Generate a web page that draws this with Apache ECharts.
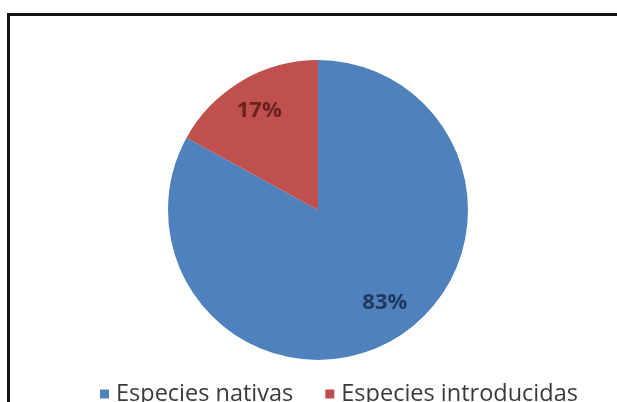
<!DOCTYPE html>
<html>
<head>
<meta charset="utf-8">
<script src="https://cdn.jsdelivr.net/npm/echarts@6/dist/echarts.min.js"></script>
<style>
    html, body { margin: 0; padding: 0; background: #fff; }
    #frame { position: absolute; left: 7px; top: 13px; width: 640px; height: 420px;
             border-top: 3px solid #141414; border-left: 3px solid #141414; }
    #chart { position: absolute; left: 0; top: 0; width: 617px; height: 402px; }
</style>
</head>
<body>
<div id="frame"></div>
<div id="chart"></div>
<script>
// datos
const categories = ['Especies nativas', 'Especies introducidas'];
const values = [83, 17];
const colors = ['#4f81bd', '#c0504d'];
const labelColors = ['#1f3a5e', '#6a2220'];
const labelShift = [[8, -7], [0, 0]];

let chart = echarts.init(document.getElementById('chart'));

let pieData = categories.map(function (name, i) {
    return { name: name, value: values[i], itemStyle: { color: colors[i] } };
});
// anillo transparente solo para colocar las etiquetas a 3/4 del radio
let labelData = categories.map(function (name, i) {
    return {
        name: name, value: values[i],
        itemStyle: { color: 'rgba(0,0,0,0)' },
        label: { color: labelColors[i], offset: labelShift[i] }
    };
});

let option = {
    animation: false,
    legend: {
        data: categories,
        left: 95,
        top: 377,
        icon: 'rect',
        itemWidth: 9,
        itemHeight: 9,
        itemGap: 32,
        textStyle: { fontFamily: 'Open Sans', fontSize: 23.5, color: '#3a3a3a', padding: [0, 0, 0, 2] }
    },
    series: [
        {
            type: 'pie',
            center: [318, 210],
            radius: 150,
            startAngle: 90,
            clockwise: true,
            label: { show: false },
            labelLine: { show: false },
            data: pieData
        },
        {
            type: 'pie',
            center: [318, 210],
            radius: [75, 150],
            startAngle: 90,
            clockwise: true,
            silent: true,
            legendHoverLink: false,
            label: {
                show: true,
                position: 'inside',
                formatter: '{c}%',
                fontFamily: 'Open Sans',
                fontWeight: 'bold',
                fontSize: 22
            },
            labelLine: { show: false },
            data: labelData
        }
    ]
};
chart.setOption(option, true);
</script>
</body>
</html>
